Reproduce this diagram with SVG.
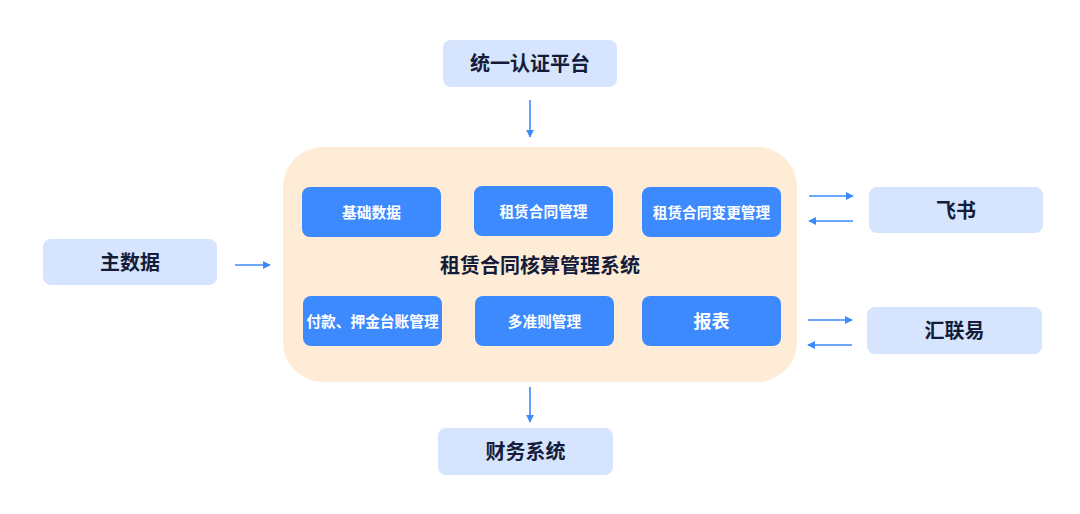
<svg xmlns="http://www.w3.org/2000/svg" width="1080" height="514" viewBox="0 0 1080 514">
<style>
.ext{fill:#D6E4FD}
.mod{fill:#3D8AFF}
.lbl{font-family:"Noto Sans CJK SC","Noto Sans",sans-serif;font-weight:700;fill:#141C3A;text-anchor:middle;dominant-baseline:central;font-size:20px}
.ml{font-family:"Noto Sans CJK SC","Noto Sans",sans-serif;font-weight:700;fill:#FFFFFF;text-anchor:middle;dominant-baseline:central;font-size:14.7px}
.conn{stroke:#3D8AFF;stroke-width:1.6;fill:none;marker-end:url(#ah)}
</style>
<defs>
<marker id="ah" viewBox="0 0 10 10" refX="9" refY="5" markerWidth="8" markerHeight="8" markerUnits="userSpaceOnUse" orient="auto">
<path d="M0,0 L10,5 L0,10 z" fill="#3D8AFF"/>
</marker>
</defs>
<rect width="1080" height="514" fill="#FFFFFF"/>
<g id="system">
<rect x="283" y="147" width="514" height="235" rx="40" fill="#FEECD6"/>
<text class="lbl" x="540" y="264">租赁合同核算管理系统</text>
</g>
<g id="m1"><rect class="mod" x="302" y="187" width="139" height="50" rx="8"/><text class="ml" x="371.5" y="211">基础数据</text></g>
<g id="m2"><rect class="mod" x="474" y="186" width="139" height="50" rx="8"/><text class="ml" x="543.5" y="210">租赁合同管理</text></g>
<g id="m3"><rect class="mod" x="642" y="187" width="139" height="50" rx="8"/><text class="ml" x="711.5" y="211">租赁合同变更管理</text></g>
<g id="m4"><rect class="mod" x="303" y="296" width="139" height="50" rx="8"/><text class="ml" x="372.5" y="320">付款、押金台账管理</text></g>
<g id="m5"><rect class="mod" x="475" y="296" width="139" height="50" rx="8"/><text class="ml" x="544.5" y="320">多准则管理</text></g>
<g id="m6"><rect class="mod" x="642" y="296" width="139" height="50" rx="8"/><text class="ml" x="711.5" y="320" style="font-size:18px">报表</text></g>
<g id="auth"><rect class="ext" x="443" y="40" width="174" height="47" rx="8"/><text class="lbl" x="530" y="62.5">统一认证平台</text></g>
<g id="master"><rect class="ext" x="43" y="239" width="174" height="46" rx="8"/><text class="lbl" x="130" y="261">主数据</text></g>
<g id="feishu"><rect class="ext" x="869" y="187" width="174" height="46" rx="8"/><text class="lbl" x="956" y="209">飞书</text></g>
<g id="hly"><rect class="ext" x="867" y="307" width="175" height="47" rx="8"/><text class="lbl" x="954.5" y="329.5">汇联易</text></g>
<g id="finance"><rect class="ext" x="438" y="428" width="175" height="47" rx="8"/><text class="lbl" x="525.5" y="450.5">财务系统</text></g>
<g id="connectors">
<line class="conn" x1="530" y1="100" x2="530" y2="137"/>
<line class="conn" x1="235" y1="265" x2="270" y2="265"/>
<line class="conn" x1="809" y1="196" x2="853" y2="196"/>
<line class="conn" x1="853" y1="221" x2="809" y2="221"/>
<line class="conn" x1="808" y1="320" x2="852" y2="320"/>
<line class="conn" x1="852" y1="345" x2="808" y2="345"/>
<line class="conn" x1="530" y1="387" x2="530" y2="422"/>
</g>
</svg>
